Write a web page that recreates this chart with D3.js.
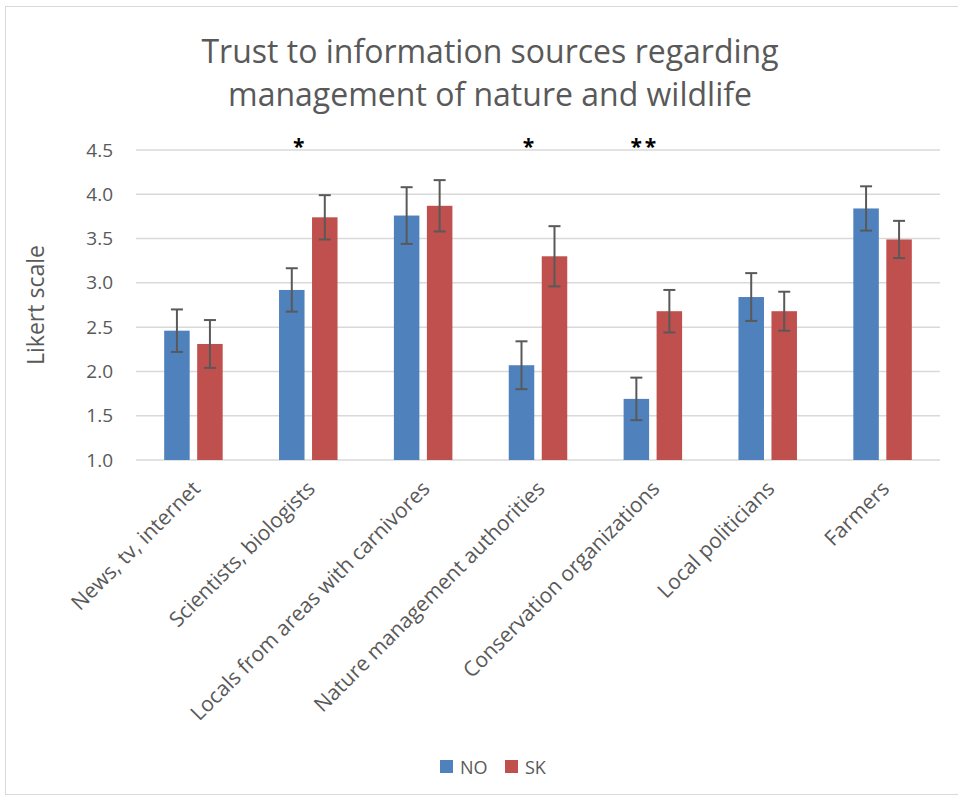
<!DOCTYPE html>
<html>
<head>
<meta charset="utf-8">
<script src="https://cdn.jsdelivr.net/npm/d3@7"></script>
<style>
  body { margin: 0; background: #fff; }
  text { font-family: "Open Sans", "Noto Sans", sans-serif; fill: #595959; }
</style>
</head>
<body>
<script>
// chart data
var categories = ["News, tv, internet", "Scientists, biologists", "Locals from areas with carnivores",
                  "Nature management authorities", "Conservation organizations", "Local politicians", "Farmers"];
var seriesNames = ["NO", "SK"];
var valuesNO = [2.46, 2.92, 3.76, 2.07, 1.69, 2.84, 3.84];
var valuesSK = [2.31, 3.74, 3.87, 3.30, 2.68, 2.68, 3.49];
var errNO = [0.24, 0.245, 0.32, 0.27, 0.24, 0.27, 0.25];
var errSK = [0.27, 0.25, 0.29, 0.34, 0.24, 0.22, 0.21];
var significance = ["", "*", "", "*", "**", "", ""];
var yTicks = [1.0, 1.5, 2.0, 2.5, 3.0, 3.5, 4.0, 4.5];

var colors = { NO: "#4f81bd", SK: "#c0504d" };

var width = 958, height = 798;
var plot = { left: 136, right: 940, top: 150, bottom: 460 };

var svg = d3.select("body").append("svg")
    .attr("width", width)
    .attr("height", height);

// outer chart frame
svg.append("rect")
    .attr("x", 5.5).attr("y", 6.5)
    .attr("width", 960).attr("height", 788)
    .attr("fill", "none")
    .attr("stroke", "#d9d9d9");

// title
svg.append("text")
    .attr("x", 490).attr("y", 63)
    .attr("text-anchor", "middle")
    .style("font-size", "32px")
    .text("Trust to information sources regarding");
svg.append("text")
    .attr("x", 490).attr("y", 106)
    .attr("text-anchor", "middle")
    .style("font-size", "32px")
    .text("management of nature and wildlife");

var x0 = d3.scaleBand()
    .domain(categories)
    .range([plot.left, plot.right])
    .paddingInner(0)
    .paddingOuter(0);

var y = d3.scaleLinear()
    .domain([1.0, 4.5])
    .range([plot.bottom, plot.top]);

// gridlines
svg.append("g")
    .selectAll("line")
    .data(yTicks)
    .enter()
    .append("line")
    .attr("x1", plot.left).attr("x2", plot.right)
    .attr("y1", function (d) { return y(d); })
    .attr("y2", function (d) { return y(d); })
    .attr("stroke", "#d9d9d9")
    .attr("stroke-width", 1.5);

// y axis labels
var yAxis = d3.axisLeft(y)
    .tickValues(yTicks)
    .tickFormat(d3.format(".1f"))
    .tickSize(0)
    .tickPadding(23);
var gy = svg.append("g")
    .attr("transform", "translate(" + plot.left + ",0)")
    .call(yAxis);
gy.select(".domain").remove();
gy.selectAll("text")
    .style("font-size", "19px")
    .style("font-family", "'Open Sans', sans-serif")
    .attr("fill", "#595959");

svg.append("text")
    .attr("transform", "translate(44," + 305 + ") rotate(-90)")
    .attr("text-anchor", "middle")
    .style("font-size", "23px")
    .text("Likert scale");

// bars
var barW = 25.5, gap = 7.5;
var x1 = d3.scaleOrdinal()
    .domain(seriesNames)
    .range([-(gap / 2) - barW, gap / 2]);

var rows = categories.map(function (c, i) {
    return [
        { cat: c, s: "NO", v: valuesNO[i], e: errNO[i] },
        { cat: c, s: "SK", v: valuesSK[i], e: errSK[i] }
    ];
});

var groups = svg.append("g")
    .selectAll("g")
    .data(rows)
    .enter()
    .append("g")
    .attr("transform", function (d) {
        return "translate(" + (x0(d[0].cat) + x0.bandwidth() / 2) + ",0)";
    });

groups.selectAll("rect")
    .data(function (d) { return d; })
    .enter()
    .append("rect")
    .attr("x", function (d) { return x1(d.s); })
    .attr("y", function (d) { return y(d.v); })
    .attr("width", barW)
    .attr("height", function (d) { return y(1.0) - y(d.v); })
    .attr("fill", function (d) { return colors[d.s]; });

// error bars
var eb = groups.selectAll("g.err")
    .data(function (d) { return d; })
    .enter()
    .append("g")
    .attr("class", "err")
    .attr("stroke", "#595959")
    .attr("stroke-width", 2);
eb.append("line")
    .attr("x1", function (d) { return x1(d.s) + barW / 2; })
    .attr("x2", function (d) { return x1(d.s) + barW / 2; })
    .attr("y1", function (d) { return y(d.v + d.e); })
    .attr("y2", function (d) { return y(d.v - d.e); });
eb.append("line")
    .attr("x1", function (d) { return x1(d.s) + barW / 2 - 6; })
    .attr("x2", function (d) { return x1(d.s) + barW / 2 + 6; })
    .attr("y1", function (d) { return y(d.v + d.e); })
    .attr("y2", function (d) { return y(d.v + d.e); });
eb.append("line")
    .attr("x1", function (d) { return x1(d.s) + barW / 2 - 6; })
    .attr("x2", function (d) { return x1(d.s) + barW / 2 + 6; })
    .attr("y1", function (d) { return y(d.v - d.e); })
    .attr("y2", function (d) { return y(d.v - d.e); });

// significance stars
svg.append("g")
    .selectAll("text")
    .data(categories)
    .enter()
    .append("text")
    .attr("x", function (d) { return x0(d) + x0.bandwidth() / 2 - 8; })
    .attr("y", 154)
    .attr("text-anchor", "middle")
    .style("font-size", "21px")
    .style("font-weight", "bold")
    .style("fill", "#000")
    .style("letter-spacing", "3px")
    .text(function (d, i) { return significance[i]; });

// x axis labels
var xAxis = d3.axisBottom(x0).tickSize(0).tickPadding(0);
var gx = svg.append("g")
    .attr("transform", "translate(0," + plot.bottom + ")")
    .call(xAxis);
gx.select(".domain").remove();
gx.selectAll("text")
    .style("font-size", "21px")
    .style("font-family", "'Open Sans', sans-serif")
    .attr("fill", "#595959")
    .attr("text-anchor", "end")
    .attr("y", 0)
    .attr("dy", 0)
    .attr("transform", "translate(8,30) rotate(-45)");

// legend
var legend = svg.append("g")
    .attr("transform", "translate(440,760)")
    .selectAll("g")
    .data(seriesNames)
    .enter()
    .append("g")
    .attr("transform", function (d, i) { return "translate(" + (i * 65) + ",0)"; });
legend.append("rect")
    .attr("width", 13).attr("height", 13)
    .attr("fill", function (d) { return colors[d]; });
legend.append("text")
    .attr("x", 20).attr("y", 14)
    .style("font-size", "18px")
    .text(function (d) { return d; });
</script>
</body>
</html>
